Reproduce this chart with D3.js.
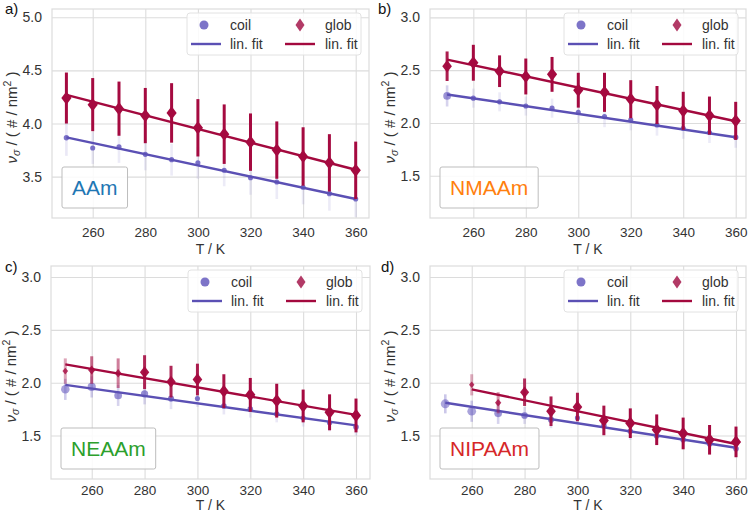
<!DOCTYPE html>
<html><head><meta charset="utf-8">
<script src="https://cdn.jsdelivr.net/npm/d3@7"></script>
<style>body{margin:0;background:#fff}svg{display:block}text{font-family:"Liberation Sans",Arial,sans-serif}</style>
</head><body><svg id="c" width="750" height="514"></svg>
<script>
// ---------- data ----------
const temps = [250,260,270,280,290,300,310,320,330,340,350,360];
const xTicks = [260,280,300,320,340,360];
const yTicksA = [3.5,4.0,4.5,5.0];
const yTicksB = [1.5,2.0,2.5,3.0];
const panelLetters = ["a)","b)","c)","d)"];
const monomers = ["AAm","NMAAm","NEAAm","NIPAAm"];
const monomerColors = ["#1f77b4","#ff7f0e","#2ca02c","#d62728"];

const coilA = [3.866,3.77,3.78,3.71,3.66,3.63,3.56,3.49,3.45,3.40,3.34,3.29];
const coilErrA = [0.17,0.15,0.15,0.15,0.15,0.15,0.15,0.16,0.16,0.16,0.16,0.17];
const coilWA = [0.15,0.1,0.1,0.1,0.1,0.1,0.1,0.1,0.1,0.1,0.1,0.1];
const globA = [4.24,4.178,4.14,4.075,4.10,3.96,3.90,3.825,3.75,3.69,3.63,3.56];
const globErrA = [0.24,0.25,0.255,0.26,0.28,0.27,0.28,0.27,0.27,0.275,0.27,0.27];
const globWA = [1,1,1,1,1,1,1,1,1,1,1,1];
const fitCoilA = [[250,3.87],[360,3.29]];
const fitGlobA = [[250,4.27],[360,3.565]];

const coilB = [2.256,2.235,2.20,2.16,2.14,2.10,2.06,2.03,1.98,1.95,1.91,1.865];
const coilErrB = [0.1,0.09,0.09,0.09,0.09,0.1,0.1,0.1,0.1,0.1,0.1,0.1];
const coilWB = [0.6,0.1,0.1,0.1,0.1,0.1,0.1,0.1,0.1,0.1,0.1,0.15];
const globB = [2.537,2.57,2.49,2.44,2.46,2.31,2.29,2.225,2.17,2.115,2.07,2.02];
const globErrB = [0.14,0.17,0.15,0.17,0.165,0.165,0.185,0.18,0.18,0.18,0.18,0.18];
const globWB = [0.9,1,1,1,1,1,1,1,1,1,1,1];
const fitCoilB = [[250,2.27],[360,1.865]];
const fitGlobB = [[250,2.60],[360,2.016]];

const coilC = [1.937,1.96,1.88,1.895,1.85,1.85,1.78,1.75,1.705,1.665,1.62,1.58];
const coilErrC = [0.1,0.1,0.1,0.1,0.1,0.08,0.08,0.08,0.08,0.08,0.08,0.08];
const coilWC = [0.75,0.7,0.6,0.5,0.3,0.1,0.2,0.2,0.15,0.15,0.15,0.2];
const globC = [2.11,2.12,2.09,2.10,2.01,2.03,1.92,1.885,1.83,1.78,1.72,1.69];
const globErrC = [0.12,0.13,0.14,0.16,0.15,0.15,0.16,0.16,0.16,0.155,0.17,0.16];
const globWC = [0.2,0.5,0.4,0.85,0.85,0.9,0.95,1,1,1,1,1];
const fitCoilC = [[250,1.98],[360,1.596]];
const fitGlobC = [[250,2.173],[360,1.696]];

const coilD = [1.80,1.73,1.71,1.69,1.65,1.667,1.595,1.54,1.495,1.46,1.42,1.375];
const coilErrD = [0.09,0.1,0.1,0.08,0.08,0.06,0.08,0.08,0.08,0.08,0.08,0.08];
const coilWD = [0.85,0.8,0.6,0.4,0.3,0.1,0.2,0.2,0.2,0.2,0.2,0.2];
const globD = [null,1.98,1.81,1.91,1.73,1.77,1.643,1.617,1.555,1.52,1.46,1.44];
const globErrD = [null,0.1,0.1,0.13,0.14,0.135,0.14,0.14,0.145,0.15,0.14,0.145];
const globWD = [null,0.15,0.3,0.8,0.9,0.9,0.95,1,1,1,1,1];
const fitCoilD = [[250,1.81],[360,1.385]];
const fitGlobD = [[260,1.937],[360,1.42]];

// ---------- layout ----------
const panels = [
  {coil:coilA, coilErr:coilErrA, coilW:coilWA, glob:globA, globErr:globErrA, globW:globWA, fitC:fitCoilA, fitG:fitGlobA, yt:yTicksA,
   fx0:52, fx1:369, fy0:9, fy1:218, x250:66.4, x360:355.7, ydom:[3.111,5.078], lx:5, ly:14, xl:36, tp:8},
  {coil:coilB, coilErr:coilErrB, coilW:coilWB, glob:globB, globErr:globErrB, globW:globWB, fitC:fitCoilB, fitG:fitGlobB, yt:yTicksB,
   fx0:430, fx1:746, fy0:9, fy1:218, x250:447.1, x360:735.7, ydom:[1.10,3.079], lx:378, ly:14, xl:36, tp:8},
  {coil:coilC, coilErr:coilErrC, coilW:coilWC, glob:globC, globErr:globErrC, globW:globWC, fitC:fitCoilC, fitG:fitGlobC, yt:yTicksB,
   fx0:51, fx1:370, fy0:266, fy1:479, x250:65.3, x360:356, ydom:[1.089,3.104], lx:5, ly:272, xl:31, tp:5},
  {coil:coilD, coilErr:coilErrD, coilW:coilWD, glob:globD, globErr:globErrD, globW:globWD, fitC:fitCoilD, fitG:fitGlobD, yt:yTicksB,
   fx0:430, fx1:746, fy0:266, fy1:479, x250:445.3, x360:736, ydom:[1.089,3.104], lx:381, ly:272, xl:31, tp:5}
];

const COIL_LINE = "#5b50b4", COIL_MK = "#6d62c2", COIL_ERR = "#8f86d0";
const GLOB_LINE = "#a3093e", GLOB_MK = "#a50a40";
const GRID = "#dcdcdc", TXT = "#333";

const svg = d3.select("#c");

panels.forEach((p,i) => {
  const x = d3.scaleLinear().domain([250,360]).range([p.x250,p.x360]);
  const y = d3.scaleLinear().domain(p.ydom).range([p.fy1,p.fy0]);
  const g = svg.append("g");
  const clipId = "clip"+i;
  svg.append("clipPath").attr("id",clipId).append("rect")
    .attr("x",p.fx0).attr("y",p.fy0).attr("width",p.fx1-p.fx0).attr("height",p.fy1-p.fy0);

  // grid
  g.append("g").attr("transform",`translate(0,${p.fy1})`)
    .call(d3.axisBottom(x).tickValues(xTicks).tickSize(-(p.fy1-p.fy0)).tickFormat(d3.format("d")).tickPadding(p.tp))
    .call(a=>{a.select(".domain").remove();
      a.selectAll("line").attr("stroke",GRID).attr("stroke-width",1.1);
      a.selectAll("text").attr("fill",TXT).attr("font-size",13.5).attr("dy","0.85em");});
  g.append("g").attr("transform",`translate(${p.fx0},0)`)
    .call(d3.axisLeft(y).tickValues(p.yt).tickSize(-(p.fx1-p.fx0)).tickFormat(d3.format(".1f")).tickPadding(10))
    .call(a=>{a.select(".domain").remove();
      a.selectAll("line").attr("stroke",GRID).attr("stroke-width",1.1);
      a.selectAll("text").attr("fill",TXT).attr("font-size",14);});
  g.append("rect").attr("x",p.fx0).attr("y",p.fy0).attr("width",p.fx1-p.fx0).attr("height",p.fy1-p.fy0)
    .attr("fill","none").attr("stroke",GRID).attr("stroke-width",1.2);

  // axis labels
  g.append("text").attr("x",(p.fx0+p.fx1)/2).attr("y",p.fy1+p.xl).attr("text-anchor","middle")
    .attr("fill",TXT).attr("font-size",14).text("T / K");
  const yl = g.append("text").attr("transform",`translate(${p.fx0-35},${(p.fy0+p.fy1)/2+4}) rotate(-90)`)
    .attr("text-anchor","middle").attr("fill",TXT).attr("font-size",15);
  yl.append("tspan").attr("font-style","italic").text("ν");
  yl.append("tspan").attr("font-style","italic").attr("font-size",10.5).attr("dy",3).text("σ");
  yl.append("tspan").attr("dy",-3).text(" / ( # / nm");
  yl.append("tspan").attr("font-size",10.5).attr("dy",-6).text("2");
  yl.append("tspan").attr("dy",6).text(" )");

  // panel letter
  svg.append("text").attr("x",p.lx).attr("y",p.ly).attr("fill","#111").attr("font-size",15).text(panelLetters[i]);

  const plot = g.append("g").attr("clip-path",`url(#${clipId})`);
  const coilPts = temps.map((t,k)=>({t, v:p.coil[k], e:p.coilErr[k], w:p.coilW[k]})).filter(d=>d.v!=null);
  const globPts = temps.map((t,k)=>({t, v:p.glob[k], e:p.globErr[k], w:p.globW[k]})).filter(d=>d.v!=null);
  const line = d3.line().x(d=>x(d[0])).y(d=>y(d[1]));

  // coil
  plot.selectAll(".ce").data(coilPts).join("line")
    .attr("x1",d=>x(d.t)).attr("x2",d=>x(d.t)).attr("y1",d=>y(d.v-d.e)).attr("y2",d=>y(d.v+d.e))
    .attr("stroke",COIL_ERR).attr("stroke-width",2.6).attr("opacity",d=>0.12+0.4*d.w);
  plot.selectAll(".cm").data(coilPts).join("circle")
    .attr("cx",d=>x(d.t)).attr("cy",d=>y(d.v)).attr("r",d=>2.3+2.6*d.w)
    .attr("fill",COIL_MK).attr("opacity",d=>0.95-0.45*d.w);
  plot.append("path").datum(p.fitC).attr("d",line).attr("fill","none").attr("stroke",COIL_LINE).attr("stroke-width",2.4);

  // glob
  plot.selectAll(".ge").data(globPts).join("line")
    .attr("x1",d=>x(d.t)).attr("x2",d=>x(d.t)).attr("y1",d=>y(d.v-d.e)).attr("y2",d=>y(d.v+d.e))
    .attr("stroke",GLOB_MK).attr("stroke-width",3).attr("opacity",d=>0.2+0.8*d.w);
  plot.append("path").datum(p.fitG).attr("d",line).attr("fill","none").attr("stroke",GLOB_LINE).attr("stroke-width",2.4);
  plot.selectAll(".gm").data(globPts).join("path")
    .attr("d",d=>{const cx=x(d.t), cy=y(d.v), hw=2.3+2.8*d.w, hh=2.6+4*d.w;
      return `M${cx},${cy-hh}L${cx+hw},${cy}L${cx},${cy+hh}L${cx-hw},${cy}Z`;})
    .attr("fill",GLOB_MK).attr("opacity",d=>0.75+0.25*d.w);

  // legend
  const lg = g.append("g").attr("transform",`translate(${p.fx1-182},${p.fy0+4})`);
  lg.append("rect").attr("x",0).attr("y",0).attr("width",174).attr("height",42).attr("rx",3)
    .attr("fill","#fff").attr("fill-opacity",0.85).attr("stroke","#e2e2e2");
  lg.append("circle").attr("cx",17).attr("cy",12).attr("r",4.5).attr("fill","#7d74c8");
  lg.append("text").attr("x",43).attr("y",16.5).attr("fill",TXT).attr("font-size",14).text("coil");
  lg.append("path").attr("d","M113,5.5L117.5,12L113,18.5L108.5,12Z").attr("fill","#b23a66");
  lg.append("text").attr("x",138).attr("y",16.5).attr("fill",TXT).attr("font-size",14).text("glob");
  lg.append("line").attr("x1",4).attr("x2",34).attr("y1",31).attr("y2",31).attr("stroke",COIL_LINE).attr("stroke-width",2.4);
  lg.append("text").attr("x",43).attr("y",35.5).attr("fill",TXT).attr("font-size",14).text("lin. fit");
  lg.append("line").attr("x1",98).attr("x2",128).attr("y1",31).attr("y2",31).attr("stroke",GLOB_LINE).attr("stroke-width",2.4);
  lg.append("text").attr("x",138).attr("y",35.5).attr("fill",TXT).attr("font-size",14).text("lin. fit");

  // monomer box
  const bg = g.append("g");
  const tx = bg.append("text").attr("x",p.fx0+20).attr("y",p.fy1-23).attr("fill",monomerColors[i])
    .attr("font-size",21).text(monomers[i]);
  const bb = tx.node().getBBox();
  bg.insert("rect","text").attr("x",p.fx0+10).attr("y",p.fy1-51).attr("width",bb.width+20).attr("height",41)
    .attr("fill","#fff").attr("fill-opacity",0.85).attr("stroke","#bdbdbd").attr("rx",2);
});
</script></body></html>
